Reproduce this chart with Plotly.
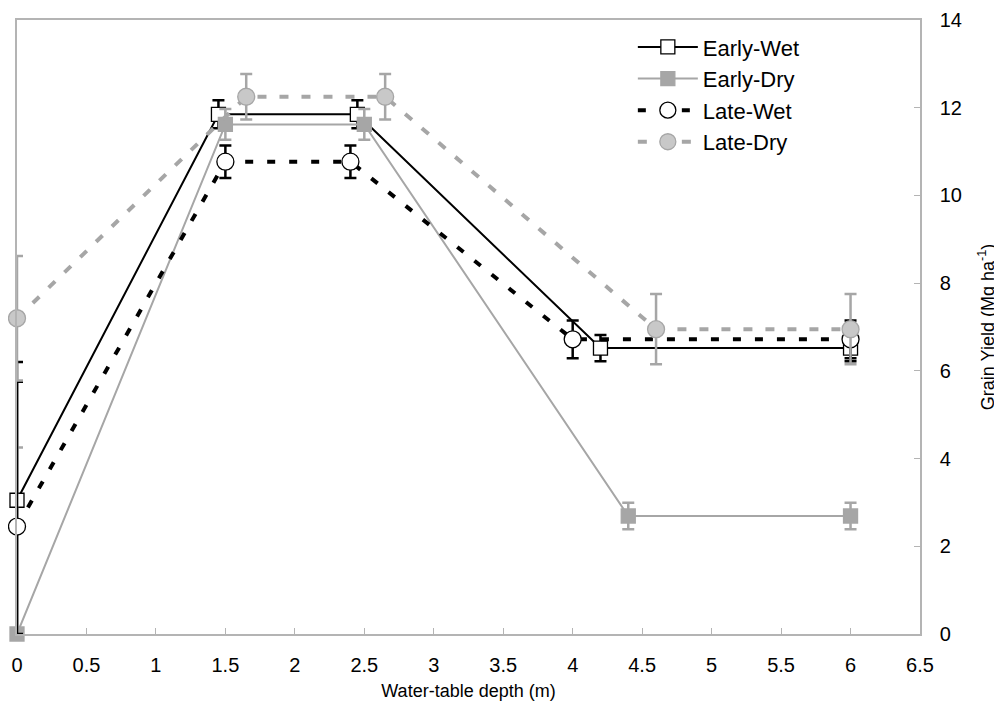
import plotly.graph_objects as go

series_names = ["Early-Wet", "Early-Dry", "Late-Wet", "Late-Dry"]

ew_x = [0, 1.45, 2.45, 4.2, 6]
ew_y = [3.05, 11.85, 11.85, 6.52, 6.52]
ew_ep = [3.15, 0.32, 0.32, 0.3, 0.3]
ew_em = [3.05, 0.32, 0.32, 0.3, 0.3]

ed_x = [0, 1.5, 2.5, 4.4, 6]
ed_y = [0, 11.62, 11.62, 2.69, 2.69]
ed_ep = [4.25, 0.35, 0.35, 0.3, 0.3]
ed_em = [0, 0.35, 0.35, 0.3, 0.3]

lw_x = [0, 1.5, 2.4, 4.0, 6]
lw_y = [2.45, 10.77, 10.77, 6.72, 6.72]
lw_ep = [3.3, 0.37, 0.37, 0.43, 0.43]
lw_em = [2.45, 0.37, 0.37, 0.43, 0.43]

ld_x = [0, 1.65, 2.65, 4.6, 6]
ld_y = [7.2, 12.25, 12.25, 6.95, 6.95]
ld_ep = [1.42, 0.52, 0.52, 0.8, 0.8]
ld_em = [1.42, 0.52, 0.52, 0.8, 0.8]

x_ticks = [0, 0.5, 1, 1.5, 2, 2.5, 3, 3.5, 4, 4.5, 5, 5.5, 6, 6.5]
y_ticks = [0, 2, 4, 6, 8, 10, 12, 14]

BLACK = "#000000"
GRAY = "#a6a6a6"
FONT = "Liberation Sans, Arial"

fig = go.Figure()

def add(name, x, y, ep, em, color, width, dash, symbol, mfill, mline, msize, ebw):
    fig.add_trace(go.Scatter(
        x=x, y=y, name=name, mode="lines+markers",
        line=dict(color=color, width=width, dash=dash),
        marker=dict(symbol=symbol, size=msize, color=mfill,
                    line=dict(color=mline, width=1.3)),
        error_y=dict(type="data", symmetric=False, array=ep, arrayminus=em,
                     color=color, thickness=ebw, width=6),
        cliponaxis=False,
    ))

add(series_names[0], ew_x, ew_y, ew_ep, ew_em, BLACK, 2, "solid", "square", "white", BLACK, 14, 2.5)
add(series_names[1], ed_x, ed_y, ed_ep, ed_em, GRAY, 2, "solid", "square", GRAY, GRAY, 14, 2.5)
add(series_names[2], lw_x, lw_y, lw_ep, lw_em, BLACK, 4, "8px,14px", "circle", "white", BLACK, 17, 2.5)
add(series_names[3], ld_x, ld_y, ld_ep, ld_em, GRAY, 4, "9px,13px", "circle", "#c8c8c8", GRAY, 17, 2.5)

axis_common = dict(
    showline=True, linecolor="#b4b4b4", linewidth=1.5, mirror=True,
    ticks="inside", ticklen=6, tickcolor="#b4b4b4", tickwidth=1,
    showgrid=False, zeroline=False, automargin=False,
    tickfont=dict(family=FONT, size=20, color="black"),
)

fig.update_layout(
    width=994, height=706,
    margin=dict(l=9, r=82, t=12, b=80),
    paper_bgcolor="white", plot_bgcolor="white",
    font=dict(family=FONT, color="black"),
    xaxis=dict(range=[0, 6.5], tickvals=x_ticks,
               ticktext=[str(v) for v in x_ticks],
               title=dict(text="Water-table depth (m)", font=dict(size=18, family=FONT), standoff=10),
               ticklabelstandoff=12,
               **axis_common),
    yaxis=dict(range=[0, 14], tickvals=y_ticks, side="right",
               title=dict(text="Grain Yield (Mg ha<sup>-1</sup>)", font=dict(size=18, family=FONT), standoff=20),
               ticklabelstandoff=14,
               **axis_common),
    legend=dict(x=0.682, y=0.99, xanchor="left", yanchor="top",
                font=dict(size=22, family=FONT),
                bgcolor="rgba(255,255,255,0)", itemwidth=60, tracegroupgap=0),
    showlegend=True,
)

fig.write_html("out.html")
